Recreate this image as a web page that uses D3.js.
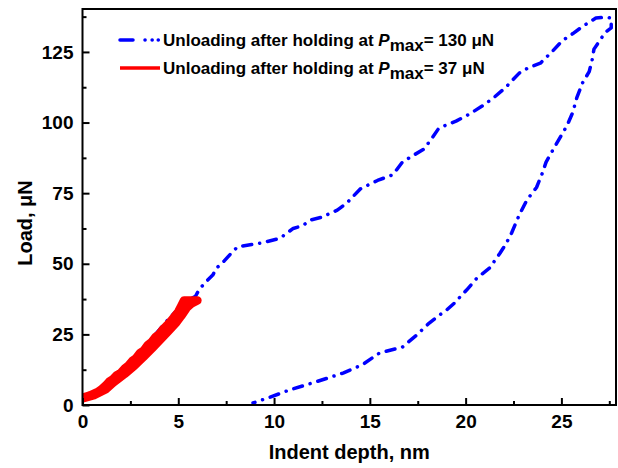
<!DOCTYPE html>
<html>
<head>
<meta charset="utf-8">
<script src="https://cdn.jsdelivr.net/npm/d3@7"></script>
<style>
  html, body { margin: 0; padding: 0; background: #fff; }
  svg { display: block; font-family: "Liberation Sans", Arial, sans-serif; font-weight: bold; }
</style>
</head>
<body>
<svg id="chart" width="618" height="468"></svg>
<script>
// ---- Data ----
// Blue: loading to ~137 uN, hold, unloading (depth nm, load uN)
const blueDepth = [0.0, 0.5, 1.0, 1.5, 2.0, 2.5, 3.0, 3.5, 4.0, 4.5, 5.0, 5.5, 5.9, 6.1, 6.5, 6.8, 7.0, 7.4, 7.8, 8.1, 8.75, 9.3, 10.3, 11.0, 11.5, 11.9, 12.5, 13.3, 13.8, 14.5, 15.4, 16.2, 16.7, 17.3, 17.8, 18.2, 18.6, 19.5, 20.2, 20.9, 21.5, 22.1, 22.8, 23.3, 23.9, 24.5, 25.05, 25.6, 26.1, 26.8, 27.3, 27.6,
  27.6, 27.3, 27.1, 26.9, 26.7, 26.6, 26.45, 26.1, 25.8, 25.6, 25.3, 25.0, 24.7, 24.2, 24.0, 23.7, 23.2, 22.8, 22.4, 22.1, 21.8, 21.25, 20.6, 20.05, 19.4, 19.0, 18.65, 18.1, 17.4, 16.7, 15.5, 14.6, 13.6, 12.0, 10.8, 9.8, 8.9];
const blueLoad = [1.5, 3.2, 5.2, 8.2, 11.8, 15.2, 18.6, 22.5, 26.5, 30.5, 34.0, 37.0, 38.5, 41.0, 44.0, 46.0, 48.5, 51.0, 54.0, 56.0, 56.7, 57.3, 59.0, 62.5, 63.5, 65.5, 66.5, 69.0, 71.5, 76.5, 79.5, 81.5, 86.0, 88.5, 90.5, 94.0, 98.0, 100.5, 103.0, 106.0, 109.0, 112.5, 117.5, 119.5, 121.0, 125.0, 129.0, 131.5, 134.0, 137.0, 137.3, 137.0,
  133.5, 132.0, 130.0, 128.0, 126.0, 122.0, 118.0, 114.0, 108.7, 103.7, 99.0, 95.5, 92.0, 86.0, 82.0, 77.0, 72.6, 67.3, 60.9, 57.0, 53.8, 48.5, 45.0, 40.7, 36.0, 33.6, 31.9, 29.0, 24.5, 20.5, 18.4, 14.2, 11.3, 7.8, 5.3, 2.8, 0.7];

// Red: loading to 37 uN, hold, then unloading back down (noisy band)
const redDepth = [0.0, 0.2, 0.4, 0.6, 0.8, 1.0, 1.2, 1.4, 1.6, 1.8, 2.0, 2.2, 2.4, 2.6, 2.8, 3.0, 3.2, 3.4, 3.6, 3.8, 4.0, 4.2, 4.4, 4.6, 4.8, 5.0, 5.15, 5.3, 5.6, 6.0,
  5.7, 5.45, 5.15, 4.87, 4.46, 4.04, 3.62, 3.18, 2.72, 2.2, 1.62, 1.2, 0.6, 0.0];
const redLoad  = [2.5, 3.0, 3.4, 4.0, 4.6, 5.6, 6.8, 8.3, 9.2, 10.6, 11.4, 12.9, 14.0, 15.6, 16.6, 18.4, 19.3, 21.2, 22.2, 24.0, 25.0, 26.8, 28.1, 29.6, 31.3, 33.0, 35.0, 37.0, 37.0, 37.0,
  36.0, 34.5, 31.5, 29.0, 26.0, 23.0, 20.0, 17.0, 14.0, 11.0, 8.0, 5.5, 3.5, 2.3];

const xMajorTicks = [0, 5, 10, 15, 20, 25];
const xMinorTicks = [2.5, 7.5, 12.5, 17.5, 22.5, 27.5];
const yMajorTicks = [0, 25, 50, 75, 100, 125];
const yMinorTicks = [12.5, 37.5, 62.5, 87.5, 112.5, 137.5];

const legendLabels = [
  { pre: "Unloading after holding at ", p: "P", sub: "max", post: "= 130 μN" },
  { pre: "Unloading after holding at ", p: "P", sub: "max", post: "= 37 μN" }
];
const xTitle = "Indent depth, nm";
const yTitle = "Load, μN";

// ---- Layout ----
const pLeft = 82.5, pRight = 616, pTop = 9, pBottom = 405;
const svg = d3.select("#chart");

const x = d3.scaleLinear().domain([0, 27.85]).range([pLeft, pRight]);
const y = d3.scaleLinear().domain([0, 140.2]).range([pBottom, pTop]);

const blue = "#0000ff", red = "#ff0000";

svg.append("defs").append("clipPath").attr("id", "clip")
  .append("rect").attr("x", pLeft).attr("y", pTop).attr("width", pRight - pLeft).attr("height", pBottom - pTop);

const line = d3.line().x(d => x(d[0])).y(d => y(d[1]));

const blueData = blueDepth.map((d, i) => [d, blueLoad[i]]);
const redData = redDepth.map((d, i) => [d, redLoad[i]]);

const plot = svg.append("g").attr("clip-path", "url(#clip)");
plot.append("path").datum(blueData)
  .attr("d", line)
  .attr("fill", "none").attr("stroke", blue).attr("stroke-width", 3.5)
  .attr("stroke-linecap", "round").attr("stroke-linejoin", "round")
  .attr("stroke-dasharray", "9,8,0.1,8");

plot.append("path").datum(redData)
  .attr("d", line)
  .attr("fill", "none").attr("stroke", red).attr("stroke-width", 8.5)
  .attr("stroke-linecap", "butt").attr("stroke-linejoin", "round");

// ---- Axes ----
const axisColor = "#000";
const gx = svg.append("g").attr("transform", `translate(0,${pBottom})`)
  .call(d3.axisBottom(x).tickValues(xMajorTicks).tickSizeInner(-7).tickSizeOuter(0).tickPadding(10).tickFormat(d3.format("d")));
const gxm = svg.append("g").attr("transform", `translate(0,${pBottom})`)
  .call(d3.axisBottom(x).tickValues(xMinorTicks).tickSizeInner(-4).tickSizeOuter(0).tickFormat(""));
const gy = svg.append("g").attr("transform", `translate(${pLeft},0)`)
  .call(d3.axisLeft(y).tickValues(yMajorTicks).tickSizeInner(-7).tickSizeOuter(0).tickPadding(9).tickFormat(d3.format("d")));
const gym = svg.append("g").attr("transform", `translate(${pLeft},0)`)
  .call(d3.axisLeft(y).tickValues(yMinorTicks).tickSizeInner(-4).tickSizeOuter(0).tickFormat(""));

[gx, gxm, gy, gym].forEach(g => {
  g.select(".domain").remove();
  g.selectAll(".tick line").attr("stroke", axisColor).attr("stroke-width", 2);
  g.selectAll(".tick text").attr("fill", "#000").style("font-size", "19px")
    .style("font-family", "'Liberation Sans', Arial, sans-serif").style("font-weight", "bold");
});

svg.append("rect").attr("x", pLeft).attr("y", pTop).attr("width", pRight - pLeft).attr("height", pBottom - pTop)
  .attr("fill", "none").attr("stroke", axisColor).attr("stroke-width", 2);

// ---- Titles ----
svg.append("text").attr("x", (pLeft + pRight) / 2).attr("y", 459)
  .attr("text-anchor", "middle").style("font-size", "20px").text(xTitle);
svg.append("text").attr("transform", "translate(32,223) rotate(-90)")
  .attr("text-anchor", "middle").style("font-size", "20px").text(yTitle);

// ---- Legend ----
const legY = [40, 68];
const legX0 = 120, legX1 = 160, textX = 163;
svg.append("line").attr("x1", legX0).attr("x2", legX1).attr("y1", legY[0]).attr("y2", legY[0])
  .attr("stroke", blue).attr("stroke-width", 3.5).attr("stroke-linecap", "round")
  .attr("stroke-dasharray", "13,12,0.1,7,0.1,6,0.1,100");
svg.append("line").attr("x1", legX0).attr("x2", legX1).attr("y1", legY[1]).attr("y2", legY[1])
  .attr("stroke", red).attr("stroke-width", 3.5);

legendLabels.forEach((l, i) => {
  const t = svg.append("text").attr("x", textX).attr("y", legY[i] + 6).style("font-size", "17px");
  t.append("tspan").text(l.pre);
  t.append("tspan").style("font-style", "italic").text(l.p);
  t.append("tspan").attr("dy", 5).text(l.sub);
  t.append("tspan").attr("dy", -5).text(l.post);
});
</script>
</body>
</html>
